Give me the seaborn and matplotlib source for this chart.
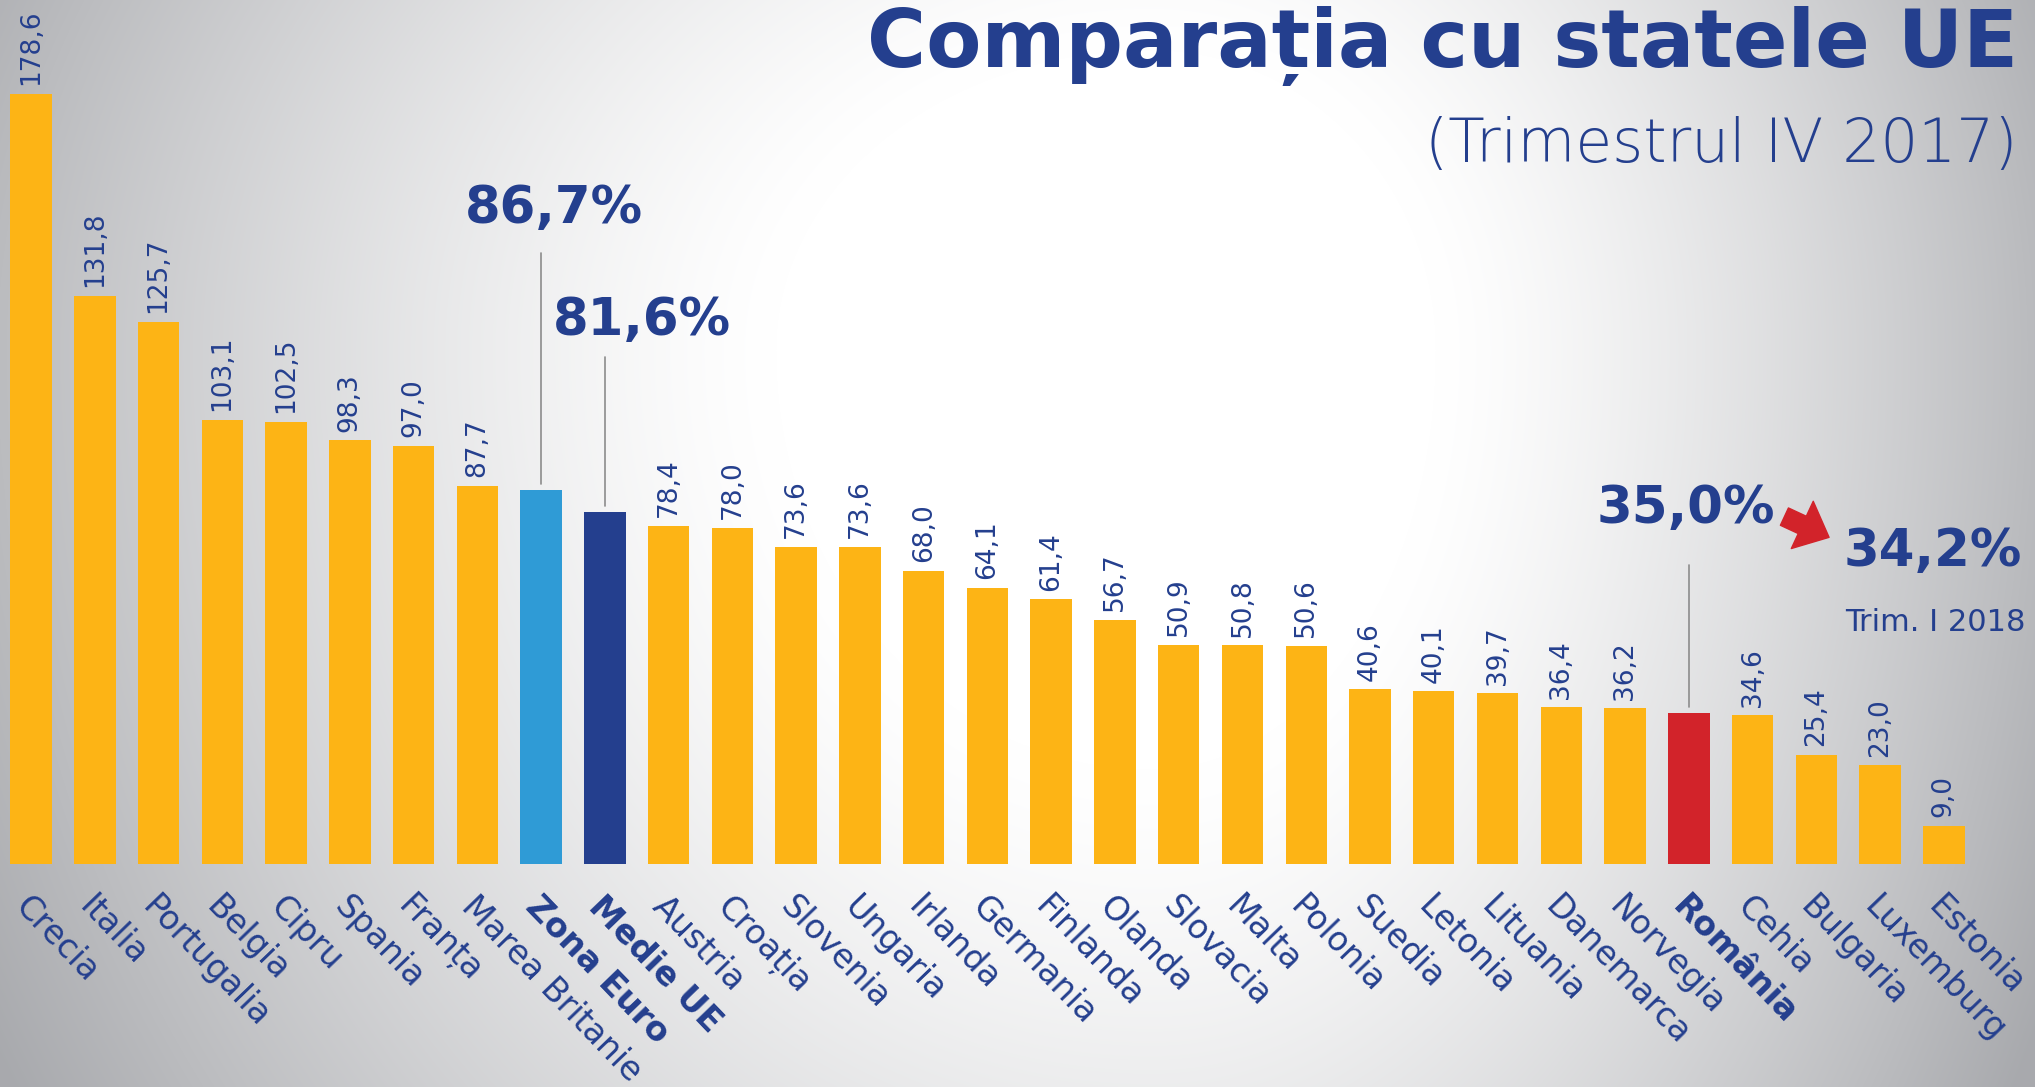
import numpy as np
import pandas as pd
import matplotlib
matplotlib.use('Agg')
import matplotlib.pyplot as plt
import seaborn as sns

tari = ['Crecia', 'Italia', 'Portugalia', 'Belgia', 'Cipru', 'Spania', 'Franța',
        'Marea Britanie', 'Zona Euro', 'Medie UE', 'Austria', 'Croația', 'Slovenia',
        'Ungaria', 'Irlanda', 'Germania', 'Finlanda', 'Olanda', 'Slovacia', 'Malta',
        'Polonia', 'Suedia', 'Letonia', 'Lituania', 'Danemarca', 'Norvegia',
        'România', 'Cehia', 'Bulgaria', 'Luxemburg', 'Estonia']
valori = [178.6, 131.8, 125.7, 103.1, 102.5, 98.3, 97.0, 87.7, 86.7, 81.6, 78.4,
          78.0, 73.6, 73.6, 68.0, 64.1, 61.4, 56.7, 50.9, 50.8, 50.6, 40.6, 40.1,
          39.7, 36.4, 36.2, 35.0, 34.6, 25.4, 23.0, 9.0]
evidentiate = ['Zona Euro', 'Medie UE', 'România']
procente = ['86,7%', '81,6%', '35,0%']
romania_2018 = '34,2%'

GALBEN = '#FDB415'
ALBASTRU = '#2F9BD6'
BLEUMARIN = '#243F8E'
ROSU = '#D2232A'

df = pd.DataFrame({'tara': tari, 'valoare': valori})
culori = {t: GALBEN for t in tari}
culori['Zona Euro'] = ALBASTRU
culori['Medie UE'] = BLEUMARIN
culori['România'] = ROSU

sns.set_style('white')
plt.rcParams['font.family'] = ['DejaVu Sans']

fig = plt.figure(figsize=(20.35, 10.87), dpi=100)

# fundal cu gradient
bg = fig.add_axes([0, 0, 1, 1])
H, W = 1087, 2035
yy, xx = np.mgrid[0:H, 0:W]
cx, cy = 1150, 350
rx = np.where(xx < cx, 1250, 950)
ry = np.where(yy < cy, 1000, 1400)
d = np.sqrt(((xx - cx) / rx) ** 2 + ((yy - cy) / ry) ** 2)
t = np.clip((d - 0.3) / 0.75, 0, 1) ** 1.3
gri = np.array([0.66, 0.665, 0.68])
img = (1 - t[..., None]) * 1.0 + t[..., None] * gri
bg.imshow(img, extent=[0, 1, 0, 1], aspect='auto')
bg.axis('off')

ax = fig.add_axes([0, 0.2047, 1, 0.7953])
ax.patch.set_alpha(0)
sns.barplot(data=df, x='tara', y='valoare', hue='tara', palette=culori,
            width=0.65, saturation=1, legend=False, linewidth=0, ax=ax)
ax.set_xlim(-0.487, 31.43)
ax.set_ylim(0, 200.3)
ax.axis('off')

for i, (tara, v) in enumerate(zip(tari, valori)):
    bold = tara in evidentiate
    if not bold:
        ax.text(i, v + 2, f'{v:.1f}'.replace('.', ','), rotation=90, ha='center',
                va='bottom', fontsize=19, color=BLEUMARIN)
    ax.text(i + 0.02, -0.03, tara, transform=ax.get_xaxis_transform(),
            rotation=-46, rotation_mode='anchor', ha='left', va='top',
            fontsize=24, color=BLEUMARIN, fontweight='bold' if bold else 'normal',
            clip_on=False)

# etichete mari pentru Zona Euro, Medie UE, Romania
pozitii = {'Zona Euro': (8.2, 148.6, 141.6), 'Medie UE': (9.58, 122.7, 117.6),
           'România': (25.96, 79.1, 69.4)}
for tara, text in zip(evidentiate, procente):
    i = tari.index(tara)
    xt, yt, ylinie = pozitii[tara]
    ax.text(xt, yt, text, ha='center', va='baseline', fontsize=37,
            fontweight='bold', color=BLEUMARIN)
    ax.plot([i, i], [valori[i] + 1.5, ylinie], color='#8c8c8c', lw=1.2)

ax.annotate('', xy=(28.2, 75.8), xytext=(27.5, 80.6),
            arrowprops=dict(arrowstyle='simple,head_length=0.85,head_width=1.5,tail_width=0.55',
                            color=ROSU, shrinkA=0, shrinkB=0, mutation_scale=25))
ax.text(28.43, 69.1, romania_2018, ha='left', va='baseline', fontsize=37,
        fontweight='bold', color=BLEUMARIN)
ax.text(28.45, 54.1, 'Trim. I 2018', ha='left', va='baseline', fontsize=22,
        color=BLEUMARIN)

fig.text(0.9916, 1 - 67 / 1087, 'Comparația cu statele UE', ha='right', va='baseline',
         fontsize=58, fontweight='heavy', color=BLEUMARIN)
fig.text(0.9916, 1 - 162 / 1087, '(Trimestrul IV 2017)', ha='right', va='baseline',
         fontsize=43, fontweight='light', color=BLEUMARIN)

fig.savefig('out.png', dpi=100)
